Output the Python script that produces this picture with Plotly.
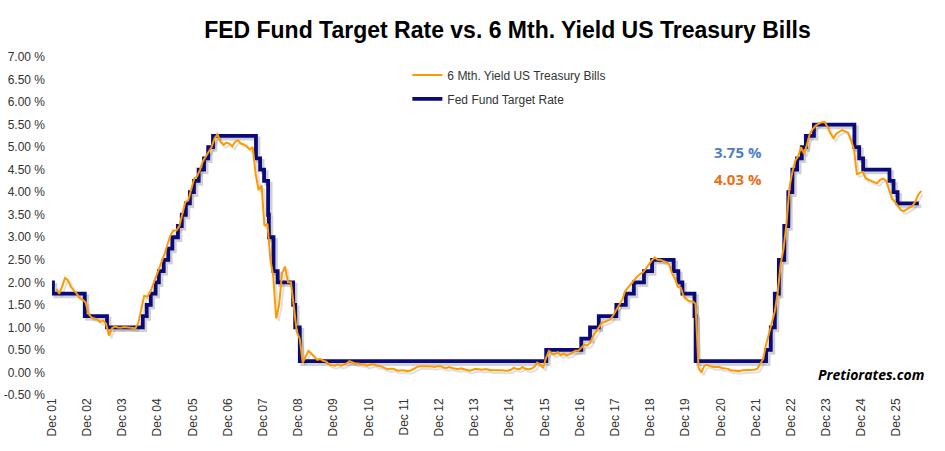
import pandas as pd
import plotly.graph_objects as go

# ---------------- data ----------------
fed_dates = [
    "2001-12-01", "2001-12-11", "2002-11-06", "2003-06-25", "2004-06-30", "2004-08-10",
    "2004-09-21", "2004-11-10", "2004-12-14", "2005-02-02", "2005-03-22", "2005-05-03",
    "2005-06-30", "2005-08-09", "2005-09-20", "2005-11-01", "2005-12-13", "2006-01-31",
    "2006-03-28", "2006-05-10", "2006-06-29", "2007-09-18", "2007-10-31", "2007-12-11",
    "2008-01-22", "2008-01-30", "2008-03-18", "2008-04-30", "2008-10-08", "2008-10-29",
    "2008-12-16", "2015-12-17", "2016-12-15", "2017-03-16", "2017-06-15", "2017-12-14",
    "2018-03-22", "2018-06-14", "2018-09-27", "2018-12-20", "2019-08-01", "2019-09-19",
    "2019-10-31", "2020-03-04", "2020-03-16", "2022-03-17", "2022-05-05", "2022-06-16",
    "2022-07-28", "2022-09-22", "2022-11-03", "2022-12-15", "2023-02-02", "2023-03-23",
    "2023-05-04", "2023-07-27", "2024-09-19", "2024-11-08", "2024-12-19", "2025-09-18",
    "2025-10-30", "2025-12-11", "2026-07-20",
]
fed_rates = [
    2.00, 1.75, 1.25, 1.00, 1.25, 1.50,
    1.75, 2.00, 2.25, 2.50, 2.75, 3.00,
    3.25, 3.50, 3.75, 4.00, 4.25, 4.50,
    4.75, 5.00, 5.25, 4.75, 4.50, 4.25,
    3.50, 3.00, 2.25, 2.00, 1.50, 1.00,
    0.25, 0.50, 0.75, 1.00, 1.25, 1.50,
    1.75, 2.00, 2.25, 2.50, 2.25, 2.00,
    1.75, 1.25, 0.25, 0.50, 1.00, 1.75,
    2.50, 3.25, 4.00, 4.50, 4.75, 5.00,
    5.25, 5.50, 5.00, 4.75, 4.50, 4.25,
    4.00, 3.75, 3.75,
]

tbill_start = "2001-12-15"   # monthly values from here on
tbill_6m = [
    1.85,
    1.75, 1.90, 2.10, 2.05, 1.90, 1.82, 1.75, 1.65, 1.62, 1.55, 1.30, 1.22,   # 2002
    1.20, 1.18, 1.12, 1.15, 1.08, 0.82, 0.98, 1.02, 1.00, 0.99, 1.01, 1.00,   # 2003
    0.99, 0.98, 0.98, 1.10, 1.40, 1.70, 1.68, 1.78, 1.95, 2.12, 2.32, 2.45,   # 2004
    2.65, 2.85, 3.05, 3.15, 3.15, 3.25, 3.50, 3.78, 3.82, 4.10, 4.30, 4.35,   # 2005
    4.50, 4.68, 4.78, 4.90, 5.00, 5.20, 5.28, 5.12, 5.05, 5.10, 5.08, 5.02,   # 2006
    5.12, 5.15, 5.08, 5.06, 5.02, 4.95, 5.00, 4.40, 4.05, 4.15, 3.25, 3.30,   # 2007
    2.50, 2.15, 1.20, 1.50, 2.20, 2.35, 2.00, 2.00, 1.50, 0.90, 0.75, 0.22,   # 2008
    0.35, 0.48, 0.42, 0.35, 0.28, 0.30, 0.26, 0.24, 0.18, 0.16, 0.15, 0.18,   # 2009
    0.15, 0.17, 0.20, 0.25, 0.22, 0.20, 0.20, 0.18, 0.18, 0.15, 0.17, 0.19,   # 2010
    0.16, 0.15, 0.13, 0.10, 0.07, 0.08, 0.08, 0.05, 0.04, 0.05, 0.04, 0.03,   # 2011
    0.05, 0.09, 0.12, 0.14, 0.14, 0.14, 0.14, 0.13, 0.12, 0.14, 0.14, 0.11,   # 2012
    0.10, 0.12, 0.10, 0.08, 0.07, 0.09, 0.07, 0.06, 0.04, 0.06, 0.08, 0.07,   # 2013
    0.06, 0.07, 0.07, 0.05, 0.05, 0.06, 0.06, 0.05, 0.04, 0.04, 0.06, 0.10,   # 2014
    0.08, 0.07, 0.12, 0.08, 0.07, 0.08, 0.12, 0.22, 0.18, 0.10, 0.32, 0.48,   # 2015
    0.42, 0.40, 0.45, 0.38, 0.42, 0.38, 0.40, 0.45, 0.48, 0.48, 0.55, 0.62,   # 2016
    0.60, 0.65, 0.80, 0.90, 1.00, 1.10, 1.12, 1.15, 1.18, 1.28, 1.40, 1.50,   # 2017
    1.62, 1.80, 1.88, 1.95, 2.05, 2.12, 2.18, 2.22, 2.30, 2.40, 2.48, 2.55,   # 2018
    2.50, 2.50, 2.48, 2.45, 2.40, 2.20, 2.08, 1.90, 1.88, 1.68, 1.62, 1.58,   # 2019
    1.58, 1.52, 0.10, 0.00, 0.15, 0.17, 0.14, 0.12, 0.12, 0.12, 0.10, 0.09,   # 2020
    0.08, 0.05, 0.04, 0.03, 0.03, 0.05, 0.05, 0.05, 0.05, 0.06, 0.08, 0.18,   # 2021
    0.30, 0.60, 0.85, 1.15, 1.35, 1.75, 2.40, 2.75, 3.30, 4.10, 4.45, 4.70,   # 2022
    4.80, 5.00, 4.85, 5.05, 5.30, 5.40, 5.48, 5.52, 5.55, 5.56, 5.45, 5.30,   # 2023
    5.20, 5.30, 5.35, 5.38, 5.35, 5.32, 5.15, 4.95, 4.40, 4.42, 4.45, 4.30,   # 2024
    4.28, 4.25, 4.22, 4.20, 4.28, 4.30, 4.25, 4.05, 3.85, 3.78, 3.70, 3.60,   # 2025
    3.58, 3.62, 3.65, 3.70, 3.80, 3.95, 4.03,                                 # 2026
]

tick_years = list(range(2001, 2026))
tick_labels = ["Dec %02d" % (y % 100) for y in tick_years]
y_ticks = [-0.5 + 0.5 * i for i in range(16)]
y_tick_labels = ["%.2f %%" % v for v in y_ticks]

last_fed = fed_rates[-1]
last_tbill = tbill_6m[-1]

# ---------------- figure ----------------
tbill_dates = pd.date_range(tbill_start, periods=len(tbill_6m), freq="MS") + pd.Timedelta(days=14)
fed_dt = pd.to_datetime(fed_dates)

shadow_dx = pd.Timedelta(days=25)
shadow_dy = 0.06

fig = go.Figure()

# shadows
fig.add_trace(go.Scatter(
    x=fed_dt + shadow_dx, y=[v - shadow_dy for v in fed_rates], mode="lines",
    line=dict(color="rgba(0,0,0,0.18)", width=4, shape="hv"),
    showlegend=False, hoverinfo="skip"))
fig.add_trace(go.Scatter(
    x=tbill_dates + shadow_dx, y=[v - shadow_dy for v in tbill_6m], mode="lines",
    line=dict(color="rgba(0,0,0,0.12)", width=2),
    showlegend=False, hoverinfo="skip"))

fig.add_trace(go.Scatter(
    x=fed_dt, y=fed_rates, mode="lines", name="Fed Fund Target Rate",
    legendgroup="fed", line=dict(color="#0a0a7a", width=3.8, shape="hv"), legendrank=2))
fig.add_trace(go.Scatter(
    x=tbill_dates, y=tbill_6m, mode="lines", name="6 Mth. Yield US Treasury Bills",
    legendgroup="tbill", line=dict(color="#ff9900", width=2), legendrank=1))

fig.update_layout(
    width=945, height=451,
    margin=dict(l=52, r=22, t=57, b=56, autoexpand=False),
    paper_bgcolor="white", plot_bgcolor="white",
    font=dict(family="Liberation Sans, Arial, sans-serif", size=12, color="#333333"),
    title=dict(text="<b>FED Fund Target Rate vs. 6 Mth. Yield US Treasury Bills</b>",
               x=0.537, xanchor="center", y=0.933, yanchor="middle",
               font=dict(size=23, color="#000000")),
    showlegend=True,
    legend=dict(x=0.408, y=0.99, xanchor="left", yanchor="top",
                bgcolor="rgba(0,0,0,0)", font=dict(size=12, color="#333333"),
                tracegroupgap=5, itemwidth=30),
    xaxis=dict(type="date", range=["2001-12-01", "2026-09-01"], automargin=False,
               tickvals=["%d-12-01" % y for y in tick_years], ticktext=tick_labels,
               tickangle=-90, showgrid=False, zeroline=False, showline=False,
               ticks="", tickfont=dict(size=12, color="#333333")),
    yaxis=dict(range=[-0.5, 7.0], tickvals=y_ticks, ticktext=y_tick_labels, automargin=False,
               showgrid=False, zeroline=False, showline=False, ticks="",
               ticklabelstandoff=6, tickfont=dict(size=12, color="#333333")),
)

fig.add_annotation(x="2021-06-01", y=4.9, text="<b>%.2f %%</b>" % last_fed, showarrow=False,
                   xanchor="center", font=dict(family="Open Sans, sans-serif", size=15, color="#4f7fbf"))
fig.add_annotation(x="2021-06-01", y=4.3, text="<b>%.2f %%</b>" % last_tbill, showarrow=False,
                   xanchor="center", font=dict(family="Open Sans, sans-serif", size=15, color="#e8711a"))
fig.add_annotation(xref="paper", yref="paper", x=1.003, y=0.06, text="<b><i>Pretiorates.com</i></b>",
                   showarrow=False, xanchor="right", yanchor="middle",
                   font=dict(family="Open Sans, sans-serif", size=14, color="#000000"))

fig.write_html("out.html", config={"displayModeBar": False},
               post_script="document.body.style.margin='0';")
